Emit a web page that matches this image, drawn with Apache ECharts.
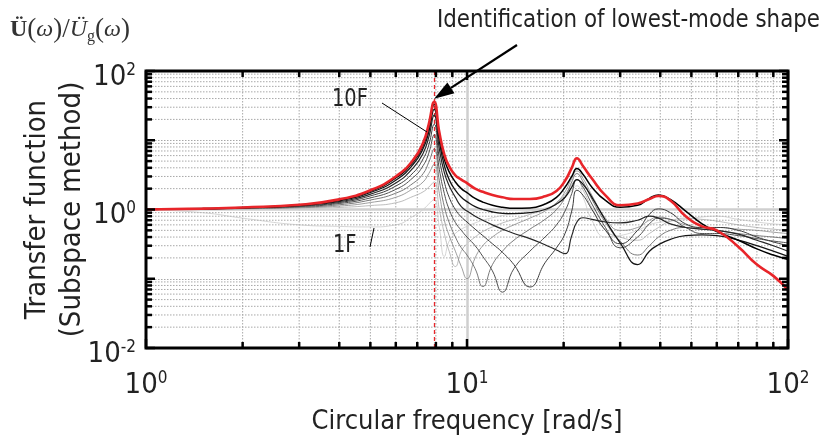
<!DOCTYPE html>
<html>
<head>
<meta charset="utf-8">
<script src="https://cdn.jsdelivr.net/npm/echarts@6/dist/echarts.min.js"></script>
<style>html,body{margin:0;background:#fff}#chart{width:826px;height:442px}</style>
</head>
<body>
<div id="chart"></div>
<script>
// circular frequency grid [rad/s], shared by all floors
const freq = [1, 1.5, 2, 3, 4, 5, 6, 6.8, 7.3, 7.6, 7.9, 8.2, 8.5, 8.8, 9.2, 9.6, 10, 10.6, 11.2, 12, 12.9, 14, 15.7, 17.5, 19, 20.2, 21.2, 22, 23, 24.5, 27, 30, 34, 37, 39.5, 43, 48, 54, 60, 70, 80, 90, 100];

// transfer function |U(w)/Ug(w)| per floor
const tf1F = [1.0, 0.9, 0.75, 0.6, 0.57, 0.56, 0.6, 0.8, 1.0, 1.2, 1.4, 0.55, 0.21, 0.35, 0.45, 0.52, 0.57, 0.64, 0.7, 0.76, 0.82, 0.88, 0.95, 1.05, 1.2, 1.5, 1.9, 2.2, 1.5, 0.7, 0.4, 0.42, 0.5, 0.6, 0.65, 0.68, 0.72, 0.78, 0.8, 0.72, 0.66, 0.62, 0.6];
const tf2F = [1.0, 1.005, 1.015, 1.03, 1.07, 1.14, 1.25, 1.55, 1.8, 2.1, 2.5, 1.0, 0.45, 0.25, 0.15, 0.25, 0.32, 0.4, 0.48, 0.56, 0.64, 0.72, 0.85, 1.0, 1.25, 1.65, 2.3, 2.7, 1.9, 1.05, 0.5, 0.4, 0.36, 0.45, 0.55, 0.68, 0.75, 0.72, 0.68, 0.6, 0.55, 0.52, 0.5];
const tf3F = [1.0, 1.01, 1.025, 1.06, 1.12, 1.26, 1.5, 2.0, 2.5, 3.3, 4.5, 1.7, 0.7, 0.42, 0.25, 0.15, 0.1, 0.2, 0.3, 0.4, 0.5, 0.6, 0.75, 0.95, 1.25, 1.8, 2.8, 3.6, 2.8, 1.6, 0.75, 0.5, 0.55, 0.7, 0.78, 0.72, 0.6, 0.55, 0.55, 0.52, 0.5, 0.47, 0.45];
const tf4F = [1.0, 1.015, 1.035, 1.08, 1.17, 1.37, 1.72, 2.4, 3.3, 4.8, 7.5, 2.6, 1.1, 0.65, 0.4, 0.28, 0.22, 0.14, 0.077, 0.16, 0.25, 0.36, 0.52, 0.72, 1.0, 1.5, 2.5, 3.3, 2.5, 1.4, 0.65, 0.35, 0.22, 0.3, 0.4, 0.5, 0.55, 0.52, 0.5, 0.45, 0.42, 0.4, 0.38];
const tf5F = [1.0, 1.02, 1.045, 1.1, 1.22, 1.47, 1.95, 2.9, 4.3, 6.5, 12, 3.8, 1.7, 1.0, 0.65, 0.5, 0.4, 0.3, 0.21, 0.13, 0.064, 0.14, 0.25, 0.4, 0.6, 0.95, 1.7, 2.7, 2.1, 1.2, 0.55, 0.28, 0.4, 0.62, 0.75, 0.72, 0.55, 0.45, 0.45, 0.42, 0.38, 0.35, 0.33];
const tf6F = [1.0, 1.02, 1.05, 1.12, 1.26, 1.57, 2.18, 3.4, 5.4, 8.5, 17, 5.5, 2.5, 1.5, 1.0, 0.78, 0.66, 0.52, 0.42, 0.32, 0.24, 0.16, 0.076, 0.17, 0.28, 0.45, 0.95, 1.9, 1.6, 1.0, 0.5, 0.32, 0.5, 0.85, 1.02, 0.9, 0.62, 0.55, 0.55, 0.5, 0.4, 0.34, 0.3];
const tf7F = [1.0, 1.025, 1.055, 1.14, 1.3, 1.67, 2.42, 4.0, 6.5, 11, 23, 7.5, 3.4, 2.2, 1.5, 1.1, 0.95, 0.8, 0.7, 0.6, 0.52, 0.45, 0.38, 0.31, 0.26, 0.23, 0.42, 0.66, 0.76, 0.72, 0.66, 0.64, 0.7, 0.8, 0.75, 0.62, 0.55, 0.52, 0.5, 0.44, 0.36, 0.3, 0.25];
const tf8F = [1.0, 1.03, 1.06, 1.15, 1.34, 1.76, 2.65, 4.5, 7.6, 13, 28, 9.5, 4.3, 2.7, 1.9, 1.5, 1.3, 1.1, 1.0, 0.92, 0.88, 0.87, 0.9, 1.0, 1.2, 1.5, 2.1, 2.7, 2.3, 1.5, 0.7, 0.33, 0.16, 0.25, 0.31, 0.37, 0.42, 0.43, 0.42, 0.36, 0.3, 0.25, 0.21];
const tf9F = [1.0, 1.03, 1.065, 1.16, 1.37, 1.84, 2.85, 4.9, 8.5, 15, 33, 11.5, 5.3, 3.5, 2.5, 2.0, 1.75, 1.45, 1.28, 1.15, 1.08, 1.04, 1.05, 1.2, 1.5, 2.1, 3.0, 3.9, 3.2, 2.1, 1.35, 1.08, 1.15, 1.45, 1.62, 1.4, 0.95, 0.62, 0.48, 0.36, 0.27, 0.22, 0.19];
const tf10F = [1.0, 1.03, 1.07, 1.17, 1.4, 1.9, 3.0, 5.2, 9.2, 17, 36, 13, 6.2, 4.2, 3.1, 2.7, 2.4, 2.0, 1.8, 1.62, 1.5, 1.42, 1.42, 1.55, 1.85, 2.6, 4.0, 5.5, 4.2, 2.8, 1.6, 1.15, 1.22, 1.42, 1.57, 1.35, 0.8, 0.57, 0.5, 0.29, 0.16, 0.11, 0.069];

const floorNames = ['1F', '2F', '3F', '4F', '5F', '6F', '7F', '8F', '9F', '10F'];
const peakFreq = 7.9;   // lowest mode
const peakValue = 36;

// minor grid / tick positions
const xMinor = [2, 3, 4, 5, 6, 7, 8, 9, 20, 30, 40, 50, 60, 70, 80, 90];
const yMinor = [0.02, 0.03, 0.04, 0.05, 0.06, 0.07, 0.08, 0.09, 0.2, 0.3, 0.4, 0.5, 0.6, 0.7, 0.8, 0.9,
    2, 3, 4, 5, 6, 7, 8, 9, 20, 30, 40, 50, 60, 70, 80, 90];
const xMajor = [1, 10, 100];
const yMajor = [0.01, 0.1, 1, 10, 100];

const NARROW = '"Liberation Sans Narrow", "Arial Narrow", "DejaVu Sans Condensed", "Liberation Sans", sans-serif';
const SERIF = '"Liberation Serif", "DejaVu Serif", serif';
const RED = '#e8252a';
const G = { left: 146, top: 71, right: 788, bottom: 348 };

const lineColors = ['#b8b8b8', '#a0a0a0', '#858585', '#6a6a6a', '#505050', '#3a3a3a', '#262626', '#151515', '#000', RED];
const lineWidths = [0.6, 0.7, 0.8, 0.9, 1.0, 1.0, 1.2, 1.3, 1.5, 2.6];

const chart = echarts.init(document.getElementById('chart'));
const floors = [tf1F, tf2F, tf3F, tf4F, tf5F, tf6F, tf7F, tf8F, tf9F, tf10F];

function powLabel(v, showOdd) {
    const e = Math.round(Math.log10(v));
    if (!showOdd && e % 2 !== 0) return '';
    return '{b|10}{s|' + e + '}';
}
const powRich = {
    b: { fontSize: 29, fontFamily: NARROW, color: '#222', lineHeight: 30 },
    s: { fontSize: 17, fontFamily: NARROW, color: '#222', lineHeight: 12, verticalAlign: 'top' }
};

const series = floors.map((vals, i) => ({
    name: floorNames[i],
    type: 'line',
    data: freq.map((f, k) => [f, vals[k]]),
    showSymbol: false,
    smooth: 0.5,
    silent: true,
    z: 3 + i,
    itemStyle: { color: lineColors[i] },
    lineStyle: { color: lineColors[i], width: lineWidths[i] }
}));

// reference lines at 10 rad/s and 1.0
series.unshift({
    name: 'ref', type: 'line', data: [], silent: true, z: 2,
    markLine: {
        silent: true, symbol: 'none', label: { show: false }, animation: false,
        lineStyle: { color: '#cfcfcf', type: 'solid', width: 2.5 },
        data: [{ xAxis: 10 }, { yAxis: 1 }]
    }
});
// identified lowest mode
series.push({
    name: 'mode', type: 'line', data: [], silent: true, z: 15,
    itemStyle: { color: RED },
    markLine: {
        silent: true, symbol: 'none', label: { show: false }, animation: false,
        lineStyle: { color: RED, type: [4, 3], width: 1.3, opacity: 1 },
        data: [{ xAxis: peakFreq }]
    }
});

chart.setOption({
    animation: false,
    grid: { left: G.left, top: G.top, right: 826 - G.right, bottom: 442 - G.bottom, show: true, borderColor: '#000', borderWidth: 3, z: 20 },
    xAxis: {
        type: 'log', logBase: 10, min: 1, max: 100, splitNumber: 2,
        axisLine: { show: false }, axisTick: { show: false },
        splitLine: { show: true, lineStyle: { color: '#a8a8a8', type: [1.5, 1.5], width: 1 } },
        axisLabel: { formatter: v => powLabel(v, true), rich: powRich, margin: 22 },
        name: 'Circular frequency [rad/s]', nameLocation: 'middle', nameGap: 60, nameMoveOverlap: false,
        nameTextStyle: { fontFamily: NARROW, fontSize: 27, color: '#222' }
    },
    yAxis: {
        type: 'log', logBase: 10, min: 0.01, max: 100, splitNumber: 4,
        axisLine: { show: false }, axisTick: { show: false },
        splitLine: { show: true, lineStyle: { color: '#a8a8a8', type: [1.5, 1.5], width: 1 } },
        axisLabel: { formatter: v => powLabel(v, false), rich: powRich, margin: 10, padding: [12, 0, 0, 0] },
        name: 'Transfer function\n(Subspace method)', nameLocation: 'middle', nameGap: 56, nameRotate: 90, nameMoveOverlap: false,
        nameTextStyle: { fontFamily: NARROW, fontSize: 29, color: '#222', lineHeight: 35 }
    },
    series: series
});

// grid lines, ticks and annotations placed through the axes
const px = v => chart.convertToPixel({ xAxisIndex: 0 }, v);
const py = v => chart.convertToPixel({ yAxisIndex: 0 }, v);
const gfx = [];
const seg = (x1, y1, x2, y2, style, z) => gfx.push({ type: 'line', silent: true, z: z, shape: { x1, y1, x2, y2 }, style });
const dotted = { stroke: '#a8a8a8', lineWidth: 1, lineDash: [1.5, 1.5] };
const tickStyle = { stroke: '#000', lineWidth: 2.5 };

xMinor.forEach(v => { const x = px(v); seg(x, G.top, x, G.bottom, dotted, 1); });
yMinor.forEach(v => { const y = py(v); seg(G.left, y, G.right, y, dotted, 1); });
xMinor.concat(xMajor).forEach(v => {
    const x = px(v), len = xMajor.includes(v) ? 9 : 6;
    seg(x, G.bottom, x, G.bottom - len, tickStyle, 30);
    seg(x, G.top, x, G.top + len, tickStyle, 30);
});
yMinor.concat(yMajor).forEach(v => {
    const y = py(v), len = yMajor.includes(v) ? 9 : 6;
    seg(G.left, y, G.left + len, y, tickStyle, 30);
    seg(G.right, y, G.right - len, y, tickStyle, 30);
});

// arrow to the first peak
const tip = [px(peakFreq), py(peakValue) - 3];
const tail = [517, 45];
const dx = tip[0] - tail[0], dy = tip[1] - tail[1], L = Math.hypot(dx, dy);
const ux = dx / L, uy = dy / L, hl = 20, hw = 6.5;
const base = [tip[0] - ux * hl, tip[1] - uy * hl];
seg(tail[0], tail[1], base[0], base[1], { stroke: '#000', lineWidth: 2.2 }, 40);
gfx.push({
    type: 'polygon', silent: true, z: 40,
    shape: { points: [tip, [base[0] - uy * hw, base[1] + ux * hw], [base[0] + uy * hw, base[1] - ux * hw]] },
    style: { fill: '#000' }
});

// floor labels with leader lines
gfx.push({ type: 'text', z: 40, x: 332, y: 88, scaleX: 0.9, style: { text: '10F', font: '24px ' + NARROW, fill: '#222' } });
seg(382, 103, 427, 132, { stroke: '#000', lineWidth: 1 }, 40);
gfx.push({ type: 'text', z: 40, x: 333, y: 234, scaleX: 0.9, style: { text: '1F', font: '24px ' + NARROW, fill: '#222' } });
seg(370, 247, 374, 228, { stroke: '#000', lineWidth: 1 }, 40);

gfx.push({ type: 'text', z: 40, x: 437, y: 8, scaleX: 0.95, style: { text: 'Identification of lowest-mode shape', font: '25px ' + NARROW, fill: '#222' } });

gfx.push({
    type: 'text', z: 40, x: 10, y: 15,
    style: {
        text: '{b|Ü}{p|(}{i|ω}{p|)/}{i|Ü}{g|g}{p|(}{i|ω}{p|)}',
        fill: '#333',
        rich: {
            b: { fontFamily: SERIF, fontWeight: 'bold', fontSize: 24, fill: '#333', lineHeight: 30 },
            p: { fontFamily: SERIF, fontSize: 27, fill: '#333', lineHeight: 30 },
            i: { fontFamily: SERIF, fontStyle: 'italic', fontSize: 24, fill: '#333', lineHeight: 30 },
            g: { fontFamily: SERIF, fontSize: 16, fill: '#333', lineHeight: 12, verticalAlign: 'bottom' }
        }
    }
});

chart.setOption({ graphic: gfx });
</script>
</body>
</html>
